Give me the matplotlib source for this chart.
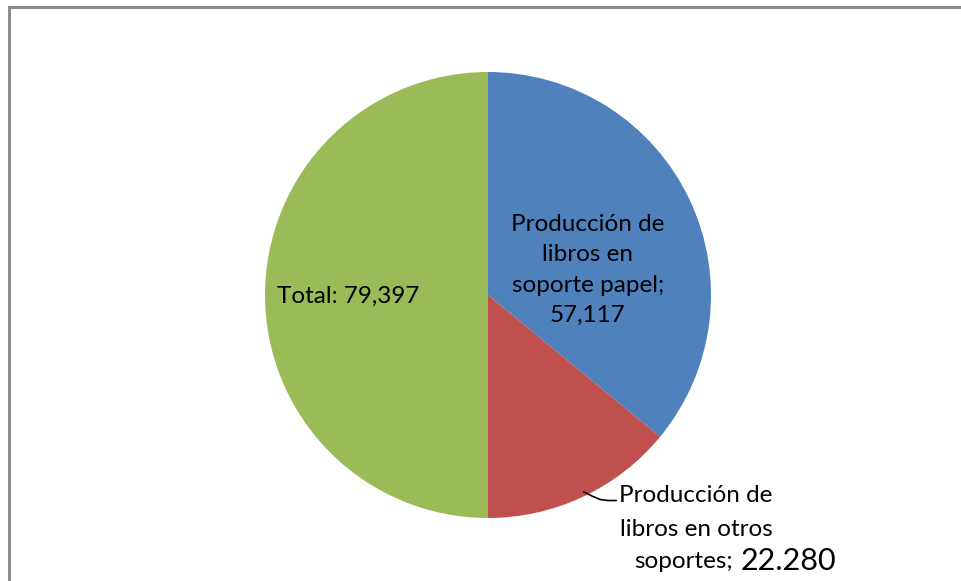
import matplotlib.pyplot as plt
from matplotlib.patches import Rectangle

labels = ['Producción de\nlibros en\nsoporte papel;', 'Producción de\nlibros en otros\nsoportes;', 'Total:']
values = [57117, 22280, 79397]
value_text = ['57,117', '22.280', '79,397']
colors = ['#4F81BD', '#C0504D', '#9BBB59']

W, H = 961, 581
fig = plt.figure(figsize=(W / 100, H / 100), dpi=100)
ax = fig.add_axes([0, 0, 1, 1])
ax.set_xlim(0, W)
ax.set_ylim(0, H)
ax.axis('off')

# outer chart frame
ax.add_patch(Rectangle((8.5, -20), 1000, H - 6.5 + 20, fill=False,
                       edgecolor='#8c8c8c', linewidth=2.2))

cx, cy, r = 488, H - 295, 223
ax.pie(values, colors=colors, startangle=90, counterclock=False,
       center=(cx, cy), radius=r, wedgeprops=dict(linewidth=0))
ax.set_xlim(0, W)
ax.set_ylim(0, H)
ax.set_aspect('equal')

font = 'Lato'
fs = 17.5

# blue slice label (inside)
ax.text(588, H - 270, labels[0] + '\n' + value_text[0], ha='center', va='center',
        fontsize=fs, family=font, linespacing=1.55, color='black')

# green slice label
ax.text(348, H - 296, labels[2] + ' ' + value_text[2], ha='center', va='center',
        fontsize=fs, family=font, color='black')

# red slice label (outside with leader)
ax.text(696, H - 496, 'Producción de', ha='center', va='center',
        fontsize=fs, family=font)
ax.text(696, H - 529, 'libros en otros', ha='center', va='center',
        fontsize=fs, family=font)
ax.text(733, H - 562, 'soportes;', ha='right', va='center',
        fontsize=fs, family=font)
ax.text(741, H - 561, value_text[1], ha='left', va='center',
        fontsize=fs + 4.5, family=font)
ax.plot([584, 592, 600, 608, 616], [H - 492, H - 496, H - 499.5, H - 500.5, H - 500.5],
        color='black', linewidth=1.2)

fig.savefig('out.png', dpi=100)
